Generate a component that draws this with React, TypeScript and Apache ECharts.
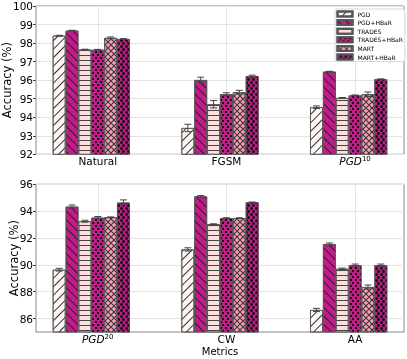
import React, { useEffect, useRef } from "react";
import * as echarts from "echarts";

const topCategories = ["Natural", "FGSM", "PGD10"];
const bottomCategories = ["PGD20", "CW", "AA"];
const seriesNames = ["PGD", "PGD+HBaR", "TRADES", "TRADES+HBaR", "MART", "MART+HBaR"];

// top panel values (Natural, FGSM, PGD10)
const topPGD = [98.4, 93.42, 94.54];
const topPGDHBaR = [98.67, 96.01, 96.46];
const topTRADES = [97.65, 94.7, 95.04];
const topTRADESHBaR = [97.64, 95.24, 95.18];
const topMART = [98.28, 95.35, 95.24];
const topMARTHBaR = [98.22, 96.22, 96.05];
const topErrPGD = [0.02, 0.2, 0.07];
const topErrPGDHBaR = [0.02, 0.15, 0.02];
const topErrTRADES = [0.02, 0.2, 0.02];
const topErrTRADESHBaR = [0.02, 0.08, 0.02];
const topErrMART = [0.05, 0.1, 0.12];
const topErrMARTHBaR = [0.02, 0.05, 0.02];

// bottom panel values (PGD20, CW, AA)
const botPGD = [89.64, 91.15, 86.64];
const botPGDHBaR = [94.34, 95.1, 91.55];
const botTRADES = [93.25, 93.03, 89.71];
const botTRADESHBaR = [93.52, 93.48, 89.98];
const botMART = [93.55, 93.48, 88.35];
const botMARTHBaR = [94.64, 94.65, 89.98];
const botErrPGD = [0.1, 0.12, 0.12];
const botErrPGDHBaR = [0.12, 0.06, 0.08];
const botErrTRADES = [0.07, 0.03, 0.05];
const botErrTRADESHBaR = [0.08, 0.03, 0.08];
const botErrMART = [0.02, 0.03, 0.15];
const botErrMARTHBaR = [0.2, 0.03, 0.08];

const topYRange = [92, 100];
const topYTicks = [92, 93, 94, 95, 96, 97, 98, 99, 100];
const botYRange = [85, 96];
const botYTicks = [86, 88, 90, 92, 94, 96];
const xTicks = [0, 1, 2];

const topValues = [topPGD, topPGDHBaR, topTRADES, topTRADESHBaR, topMART, topMARTHBaR];
const topErrors = [topErrPGD, topErrPGDHBaR, topErrTRADES, topErrTRADESHBaR, topErrMART, topErrMARTHBaR];
const botValues = [botPGD, botPGDHBaR, botTRADES, botTRADESHBaR, botMART, botMARTHBaR];
const botErrors = [botErrPGD, botErrPGDHBaR, botErrTRADES, botErrTRADESHBaR, botErrMART, botErrMARTHBaR];

const FONT = "DejaVu Sans";
const TICK_FS = 10.5;
const NAME_FS = 11.5;
const fills = ["#fff7f3", "#c51b8a", "#fde0dd", "#c51b8a", "#fa9fb5", "#c51b8a"];
const decals: any[] = [
  { symbol: "rect", symbolSize: 1, dashArrayX: [1, 0], dashArrayY: [1, 5], rotation: -Math.PI / 4, color: "#333" },
  { symbol: "rect", symbolSize: 1, dashArrayX: [1, 0], dashArrayY: [1, 5], rotation: Math.PI / 4, color: "#222" },
  { symbol: "rect", symbolSize: 1, dashArrayX: [1, 0], dashArrayY: [1, 3.3], rotation: 0, color: "#444" },
  { symbol: "rect", symbolSize: 1, dashArrayX: [[1.6, 2.4], [0, 2, 1.6, 0.4]], dashArrayY: [1.6, 0.6], rotation: 0, color: "#111" },
  { symbol: "path://M0 0L1.2 0L10 8.8L10 10L8.8 10L0 1.2Z M8.8 0L10 0L10 1.2L1.2 10L0 10L0 8.8Z", symbolSize: 1, dashArrayX: [6, 0], dashArrayY: [6, 0], rotation: 0, color: "#333" },
  { symbol: "circle", symbolSize: 1, dashArrayX: [[2.2, 1.2], [0, 1.7, 2.2, 0]], dashArrayY: [2.2, 0], rotation: 0, color: "#111" },
];

const X_MIN = -0.48;
const X_MAX = 2.38;
const BAR_STEP = 0.1;
const GRID_LEFT = 36;
const GRID_W = 368;

function labelFormatter(cats: string[]) {
  return (v: number) => {
    const i = Math.round(v);
    if (Math.abs(v - i) > 1e-6 || i < 0 || i >= cats.length) return "";
    const c = cats[i];
    const m = c.match(/^PGD(\d+)$/);
    if (m) return "{it|PGD}{sup|" + m[1] + "}";
    return "{n|" + c + "}";
  };
}

export default function App() {
  const ref = useRef<HTMLDivElement>(null);
  useEffect(() => {
    if (!ref.current) return;
    const chart = echarts.init(ref.current, undefined, { renderer: "svg" });
    const barWidth = (BAR_STEP * GRID_W) / (X_MAX - X_MIN);
    const xPos = (g: number, j: number) => g + (j - 3) * BAR_STEP;

    const richLabel = {
      n: { fontSize: TICK_FS, fontFamily: FONT, color: "#000", lineHeight: 12 },
      it: { fontStyle: "italic", fontSize: TICK_FS, fontFamily: FONT, color: "#000", lineHeight: 12 },
      sup: { fontSize: 7, fontFamily: FONT, color: "#000", lineHeight: 5, verticalAlign: "top" },
    };

    const grids = [
      { left: GRID_LEFT, top: 6, width: GRID_W, height: 148.3, show: true, borderColor: "#888", borderWidth: 1, outerBoundsMode: "none", containLabel: false },
      { left: GRID_LEFT, top: 184.3, width: GRID_W, height: 147.7, show: true, borderColor: "#888", borderWidth: 1, outerBoundsMode: "none", containLabel: false },
    ];
    const xAxes = [0, 1].map((gi) => ({
      type: "value",
      gridIndex: gi,
      min: X_MIN,
      max: X_MAX,
      axisLine: { show: false, onZero: false },
      axisTick: { show: false, customValues: xTicks },
      splitLine: { show: true, lineStyle: { color: "#e3e3e3", width: 1 } },
      axisLabel: {
        show: true,
        customValues: xTicks,
        fontFamily: FONT,
        fontSize: TICK_FS,
        color: "#000",
        margin: 1,
        formatter: labelFormatter(gi === 0 ? topCategories : bottomCategories),
        rich: richLabel,
      },
      name: gi === 1 ? "Metrics" : "",
      nameLocation: "middle",
      nameGap: 14,
      nameMoveOverlap: false,
      nameTextStyle: { fontFamily: FONT, fontSize: 10, color: "#000", lineHeight: 11 },
    }));
    const yAxes = [0, 1].map((gi) => {
      const range = gi === 0 ? topYRange : botYRange;
      const ticks = gi === 0 ? topYTicks : botYTicks;
      return {
        type: "value",
        gridIndex: gi,
        min: range[0],
        max: range[1],
        axisLine: { show: false, onZero: false },
        axisTick: { show: true, length: 3, customValues: ticks, lineStyle: { color: "#444" } },
        splitLine: { show: true, lineStyle: { color: "#e3e3e3", width: 1 } },
        axisLabel: {
          customValues: ticks,
          fontFamily: FONT,
          fontSize: TICK_FS,
          color: "#000",
          margin: 3,
        },
        name: "Accuracy (%)",
        nameLocation: "middle",
        nameGap: gi === 0 ? 23 : 16,
        nameMoveOverlap: false,
        nameTextStyle: { fontFamily: FONT, fontSize: NAME_FS, color: "#000" },
      };
    });

    const series: any[] = [];
    [topValues, botValues].forEach((vals, gi) => {
      vals.forEach((arr, j) => {
        series.push({
          type: "bar",
          name: seriesNames[j],
          xAxisIndex: gi,
          yAxisIndex: gi,
          barWidth,
          barGap: "-100%",
          data: arr.map((v, g) => [xPos(g, j), v]),
          itemStyle: { color: fills[j], borderColor: "#555", borderWidth: 0.8, decal: decals[j] },
          emphasis: { disabled: true },
        });
      });
    });
    [topValues, botValues].forEach((vals, gi) => {
      const errs = gi === 0 ? topErrors : botErrors;
      const data: number[][] = [];
      vals.forEach((arr, j) => arr.forEach((v, g) => data.push([xPos(g, j), v, errs[j][g]])));
      series.push({
        type: "custom",
        xAxisIndex: gi,
        yAxisIndex: gi,
        data,
        z: 10,
        silent: true,
        renderItem: (params: any, api: any) => {
          const x = api.value(0);
          const v = api.value(1);
          const e = api.value(2);
          const hi = api.coord([x, v + e]);
          const lo = api.coord([x, v - e]);
          const cap = 3.5;
          const st = { stroke: "#444", lineWidth: 1 };
          return {
            type: "group",
            children: [
              { type: "line", shape: { x1: hi[0], y1: hi[1], x2: lo[0], y2: lo[1] }, style: st },
              { type: "line", shape: { x1: hi[0] - cap, y1: hi[1], x2: hi[0] + cap, y2: hi[1] }, style: st },
              { type: "line", shape: { x1: lo[0] - cap, y1: lo[1], x2: lo[0] + cap, y2: lo[1] }, style: st },
            ],
          };
        },
      });
    });

    chart.setOption({
      animation: false,
      textStyle: { fontFamily: FONT },
      grid: grids,
      xAxis: xAxes,
      yAxis: yAxes,
      legend: {
        data: seriesNames,
        orient: "vertical",
        left: 335,
        top: 9,
        itemWidth: 15,
        itemHeight: 5,
        itemGap: 1.6,
        padding: [1.5, 2, 1, 1.5],
        icon: "rect",
        selectedMode: false,
        backgroundColor: "#fff",
        borderColor: "#d8d8d8",
        borderWidth: 1,
        borderRadius: 2,
        textStyle: { fontFamily: FONT, fontSize: 6, color: "#000", lineHeight: 7 },
      },
      series,
    });
    return () => chart.dispose();
  }, []);
  return <div ref={ref} style={{ position: "fixed", left: 0, top: 0, width: 407, height: 359 }} />;
}
